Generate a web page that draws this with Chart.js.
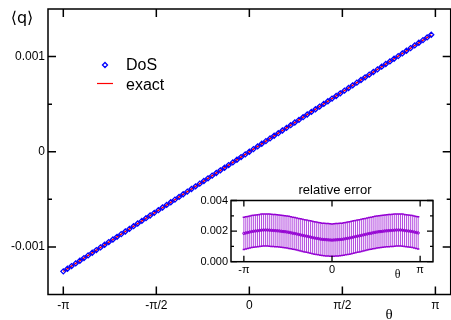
<!DOCTYPE html>
<html>
<head>
<meta charset="utf-8">
<script src="https://cdn.jsdelivr.net/npm/chart.js@4.4.1/dist/chart.umd.min.js"></script>
<style>
  html, body { margin: 0; padding: 0; background: #fff; overflow: hidden; }
  #wrap { position: relative; width: 451px; height: 320px; overflow: hidden; }
  #main { position: absolute; left: 0; top: 0; }
  #inset { position: absolute; left: 185px; top: 180px; }
</style>
</head>
<body>
<div id="wrap">
  <canvas id="main" width="456" height="320"></canvas>
  <canvas id="inset" width="260" height="102"></canvas>
</div>
<script>
// theta grid (shared by main plot and inset)
const theta = [
  -3.1416, -3.0718, -3.0020, -2.9322, -2.8623, -2.7925, -2.7227, -2.6529, -2.5831, -2.5133,
  -2.4435, -2.3736, -2.3038, -2.2340, -2.1642, -2.0944, -2.0246, -1.9548, -1.8850, -1.8151,
  -1.7453, -1.6755, -1.6057, -1.5359, -1.4661, -1.3963, -1.3265, -1.2566, -1.1868, -1.1170,
  -1.0472, -0.9774, -0.9076, -0.8378, -0.7679, -0.6981, -0.6283, -0.5585, -0.4887, -0.4189,
  -0.3491, -0.2793, -0.2094, -0.1396, -0.0698, 0.0000, 0.0698, 0.1396, 0.2094, 0.2793,
  0.3491, 0.4189, 0.4887, 0.5585, 0.6283, 0.6981, 0.7679, 0.8378, 0.9076, 0.9774,
  1.0472, 1.1170, 1.1868, 1.2566, 1.3265, 1.3963, 1.4661, 1.5359, 1.6057, 1.6755,
  1.7453, 1.8151, 1.8850, 1.9548, 2.0246, 2.0944, 2.1642, 2.2340, 2.3038, 2.3736,
  2.4435, 2.5133, 2.5831, 2.6529, 2.7227, 2.7925, 2.8623, 2.9322, 3.0020, 3.0718
];

// <q> from DoS
const qDoS = [
  -0.001257, -0.001229, -0.001201, -0.001173, -0.001145, -0.001117, -0.001089, -0.001061, -0.001033, -0.001005,
  -0.000977, -0.000949, -0.000922, -0.000894, -0.000866, -0.000838, -0.000810, -0.000782, -0.000754, -0.000726,
  -0.000698, -0.000670, -0.000642, -0.000614, -0.000586, -0.000559, -0.000531, -0.000503, -0.000475, -0.000447,
  -0.000419, -0.000391, -0.000363, -0.000335, -0.000307, -0.000279, -0.000251, -0.000223, -0.000195, -0.000168,
  -0.000140, -0.000112, -0.000084, -0.000056, -0.000028, 0, 0.000028, 0.000056, 0.000084, 0.000112,
  0.000140, 0.000168, 0.000195, 0.000223, 0.000251, 0.000279, 0.000307, 0.000335, 0.000363, 0.000391,
  0.000419, 0.000447, 0.000475, 0.000503, 0.000531, 0.000559, 0.000586, 0.000614, 0.000642, 0.000670,
  0.000698, 0.000726, 0.000754, 0.000782, 0.000810, 0.000838, 0.000866, 0.000894, 0.000922, 0.000949,
  0.000977, 0.001005, 0.001033, 0.001061, 0.001089, 0.001117, 0.001145, 0.001173, 0.001201, 0.001229
];

// exact curve
const exactTheta = [-3.1416, -1.5708, 0, 1.5708, 3.0718];
const exactQ = [-0.001257, -0.000628, 0, 0.000628, 0.001229];

// inset: relative error and its error bar
const relErr = [
  0.00185, 0.00188, 0.00191, 0.00194, 0.00197, 0.00199, 0.00201, 0.00202, 0.00204, 0.00206,
  0.00207, 0.00207, 0.00207, 0.00206, 0.00205, 0.00204, 0.00203, 0.00202, 0.00201, 0.00199,
  0.00197, 0.00196, 0.00194, 0.00192, 0.00189, 0.00186, 0.00184, 0.00181, 0.00178, 0.00175,
  0.00172, 0.00169, 0.00167, 0.00164, 0.00161, 0.00158, 0.00155, 0.00153, 0.00151, 0.00148,
  0.00146, 0.00145, 0.00144, 0.00143, 0.00142, 0.00141, 0.00142, 0.00143, 0.00144, 0.00145,
  0.00146, 0.00148, 0.00151, 0.00153, 0.00155, 0.00158, 0.00161, 0.00164, 0.00167, 0.00169,
  0.00172, 0.00175, 0.00178, 0.00181, 0.00184, 0.00186, 0.00189, 0.00192, 0.00194, 0.00196,
  0.00197, 0.00199, 0.00201, 0.00202, 0.00203, 0.00204, 0.00205, 0.00206, 0.00207, 0.00207,
  0.00207, 0.00206, 0.00204, 0.00202, 0.00201, 0.00199, 0.00197, 0.00194, 0.00191, 0.00188
];
const relErrBar = [
  0.00105, 0.00105, 0.00105, 0.00105, 0.00105, 0.00105, 0.00105, 0.00105, 0.00105, 0.00105,
  0.00105, 0.00105, 0.00105, 0.00105, 0.00105, 0.00105, 0.00105, 0.00105, 0.00105, 0.00105,
  0.00105, 0.00105, 0.00105, 0.00105, 0.00105, 0.00105, 0.00105, 0.00105, 0.00105, 0.00105,
  0.00106, 0.00106, 0.00106, 0.00106, 0.00106, 0.00106, 0.00106, 0.00106, 0.00106, 0.00106,
  0.00106, 0.00106, 0.00106, 0.00106, 0.00106, 0.00106, 0.00106, 0.00106, 0.00106, 0.00106,
  0.00106, 0.00106, 0.00106, 0.00106, 0.00106, 0.00106, 0.00106, 0.00106, 0.00106, 0.00106,
  0.00105, 0.00105, 0.00105, 0.00105, 0.00105, 0.00105, 0.00105, 0.00105, 0.00105, 0.00105,
  0.00105, 0.00105, 0.00105, 0.00105, 0.00105, 0.00105, 0.00105, 0.00105, 0.00105, 0.00105,
  0.00105, 0.00105, 0.00105, 0.00105, 0.00105, 0.00105, 0.00105, 0.00105, 0.00105, 0.00105
];

// ticks
const xTicks = [-3.1416, -1.5708, 0, 1.5708, 3.1416];
const xTickLabels = ['-π', '-π/2', '0', 'π/2', 'π'];
const yTicks = [-0.001, 0, 0.001];
const yTickLabels = ['-0.001', '0', '0.001'];
const yMinor = [-0.0005, 0.0005];

const insetXTicks = [-3.1416, 0, 3.1416];
const insetXTickLabels = ['-π', '0', 'π'];
const insetYTicks = [0, 0.002, 0.004];
const insetYTickLabels = ['0.000', '0.002', '0.004'];
const insetYMinor = [0.001, 0.003];

const FONT = "'Liberation Sans', Arial, sans-serif";
const VIOLET = 'rgb(148, 0, 211)';
const DOS_COLOR = '#0000ff';
const EXACT_COLOR = '#ff0000';

function axis(min, max, vals, labels, fontSize, pad, fit, isX) {
  return {
    type: 'linear', min: min, max: max,
    grid: { display: false, drawTicks: false },
    border: { display: false },
    afterBuildTicks: s => { s.ticks = vals.map(v => ({ value: v })); },
    afterFit: s => {
      if (isX) s.height = fit; else s.width = fit;
      s.paddingTop = s.paddingBottom = s.paddingLeft = s.paddingRight = 0;
    },
    ticks: {
      autoSkip: false, maxRotation: 0, padding: pad, color: '#000',
      font: { family: FONT, size: fontSize },
      callback: (v, i) => labels[i]
    }
  };
}

// box around the plot area with inward ticks on all four sides
const framePlugin = {
  id: 'frame',
  afterDraw(chart, args, o) {
    const { ctx, chartArea: a } = chart;
    const x = chart.scales.x, y = chart.scales.y;
    ctx.save();
    ctx.strokeStyle = '#000';
    ctx.lineWidth = o.tickWidth;
    ctx.beginPath();
    const vtick = (v, len) => {
      const p = x.getPixelForValue(v);
      ctx.moveTo(p, a.bottom); ctx.lineTo(p, a.bottom - len);
      ctx.moveTo(p, a.top); ctx.lineTo(p, a.top + len);
    };
    const htick = (v, len) => {
      const p = y.getPixelForValue(v);
      ctx.moveTo(a.left, p); ctx.lineTo(a.left + len, p);
      ctx.moveTo(a.right, p); ctx.lineTo(a.right - len, p);
    };
    o.xMajor.forEach(v => vtick(v, o.major));
    o.yMajor.forEach(v => htick(v, o.major));
    o.yMinor.forEach(v => htick(v, o.minor));
    ctx.stroke();
    ctx.lineWidth = o.frameWidth;
    ctx.strokeRect(a.left, a.top, a.right - a.left, a.bottom - a.top);
    ctx.restore();
  }
};

// free text (axis titles etc.)
const textPlugin = {
  id: 'texts',
  afterDraw(chart, args, o) {
    const ctx = chart.ctx;
    ctx.save();
    ctx.fillStyle = '#000';
    ctx.textBaseline = 'middle';
    o.items.forEach(t => {
      ctx.font = t.font;
      ctx.textAlign = t.align || 'center';
      ctx.fillText(t.text, t.x, t.y);
    });
    ctx.restore();
  }
};

// legend drawn inside the main plot
const legendPlugin = {
  id: 'inLegend',
  afterDraw(chart) {
    const ctx = chart.ctx;
    const ds = chart.data.datasets;
    ctx.save();
    ctx.strokeStyle = DOS_COLOR;
    ctx.fillStyle = 'rgba(0,0,0,0)';
    ctx.lineWidth = 1.3;
    Chart.helpers.drawPoint(ctx, { pointStyle: 'rectRot', radius: 2.5, rotation: 0, borderWidth: 1.3 }, 105, 65);
    ctx.strokeStyle = EXACT_COLOR;
    ctx.lineWidth = 1.2;
    ctx.beginPath();
    ctx.moveTo(97, 83.5); ctx.lineTo(113, 83.5);
    ctx.stroke();
    ctx.fillStyle = '#000';
    ctx.font = '16px ' + FONT;
    ctx.textAlign = 'left';
    ctx.textBaseline = 'alphabetic';
    ctx.fillText(ds[0].label, 126, 70);
    ctx.fillText(ds[1].label, 126, 90);
    ctx.restore();
  }
};

new Chart(document.getElementById('main'), {
  type: 'scatter',
  data: {
    datasets: [
      {
        label: 'DoS',
        data: theta.map((t, i) => ({ x: t, y: qDoS[i] })),
        showLine: false,
        pointStyle: 'rectRot',
        pointRadius: 2.5,
        pointBorderWidth: 1.3,
        pointBorderColor: DOS_COLOR,
        pointBackgroundColor: 'rgba(0,0,0,0)',
        order: 0
      },
      {
        label: 'exact',
        data: exactTheta.map((t, i) => ({ x: t, y: exactQ[i] })),
        showLine: true,
        borderColor: EXACT_COLOR,
        backgroundColor: EXACT_COLOR,
        borderWidth: 1.5,
        pointRadius: 0,
        order: 1
      }
    ]
  },
  options: {
    responsive: false,
    animation: false,
    layout: { padding: { left: 0, top: 9, right: 2, bottom: 0 } },
    plugins: {
      legend: { display: false },
      tooltip: { enabled: false },
      frame: { xMajor: xTicks, yMajor: yTicks, yMinor: yMinor, major: 8, minor: 4, tickWidth: 1.5, frameWidth: 1.5 },
      texts: {
        items: [
          { text: '⟨q⟩', x: 22, y: 19, font: "16px 'DejaVu Sans', sans-serif" },
          { text: 'θ', x: 389, y: 315, font: "15px 'Liberation Serif', serif" }
        ]
      }
    },
    scales: {
      x: axis(-3.4, 3.4, xTicks, xTickLabels, 12, 4, 25.5, true),
      y: axis(-0.0015, 0.0015, yTicks, yTickLabels, 12, 3, 48, false)
    }
  },
  plugins: [framePlugin, textPlugin, legendPlugin]
});

// white plot area for the inset
const insetBg = {
  id: 'insetBg',
  beforeDraw(chart) {
    const { ctx, chartArea: a } = chart;
    ctx.save();
    ctx.fillStyle = '#fff';
    ctx.fillRect(a.left, a.top, a.right - a.left, a.bottom - a.top);
    ctx.restore();
  }
};

// vertical error bars with caps
const errorBars = {
  id: 'errorBars',
  beforeDatasetsDraw(chart) {
    const { ctx, chartArea: a } = chart;
    const x = chart.scales.x, y = chart.scales.y;
    ctx.save();
    ctx.beginPath();
    ctx.rect(a.left, a.top, a.right - a.left, a.bottom - a.top);
    ctx.clip();
    theta.forEach((t, i) => {
      const px = x.getPixelForValue(t);
      const lo = y.getPixelForValue(relErr[i] - relErrBar[i]);
      const hi = y.getPixelForValue(relErr[i] + relErrBar[i]);
      ctx.strokeStyle = 'rgba(148, 0, 211, 0.7)';
      ctx.lineWidth = 1;
      ctx.beginPath();
      ctx.moveTo(px, lo); ctx.lineTo(px, hi);
      ctx.stroke();
      ctx.strokeStyle = VIOLET;
      ctx.lineWidth = 1.5;
      ctx.beginPath();
      ctx.moveTo(px - 1.2, lo); ctx.lineTo(px + 1.2, lo);
      ctx.moveTo(px - 1.2, hi); ctx.lineTo(px + 1.2, hi);
      ctx.stroke();
    });
    ctx.restore();
  }
};

new Chart(document.getElementById('inset'), {
  type: 'scatter',
  data: {
    datasets: [{
      label: 'relative error',
      data: theta.map((t, i) => ({ x: t, y: relErr[i] })),
      showLine: true,
      borderColor: VIOLET,
      borderWidth: 1,
      pointRadius: 1.2,
      pointBorderWidth: 1,
      pointBorderColor: VIOLET,
      pointBackgroundColor: 'rgba(0,0,0,0)'
    }]
  },
  options: {
    responsive: false,
    animation: false,
    layout: { padding: { left: 0, top: 20.5, right: 12, bottom: 0 } },
    plugins: {
      legend: { display: false },
      tooltip: { enabled: false },
      frame: { xMajor: insetXTicks, yMajor: insetYTicks, yMinor: insetYMinor, major: 6, minor: 3, tickWidth: 1.3, frameWidth: 1.5 },
      texts: {
        items: [
          { text: 'relative error', x: 150, y: 10.5, font: '13px ' + FONT },
          { text: 'θ', x: 212.5, y: 95, font: "12px 'Liberation Serif', serif" }
        ]
      }
    },
    scales: {
      x: axis(-3.6, 3.6, insetXTicks, insetXTickLabels, 11, 2, 20.3, true),
      y: axis(0, 0.004, insetYTicks, insetYTickLabels, 11, 3, 46, false)
    }
  },
  plugins: [insetBg, errorBars, framePlugin, textPlugin]
});
</script>
</body>
</html>
